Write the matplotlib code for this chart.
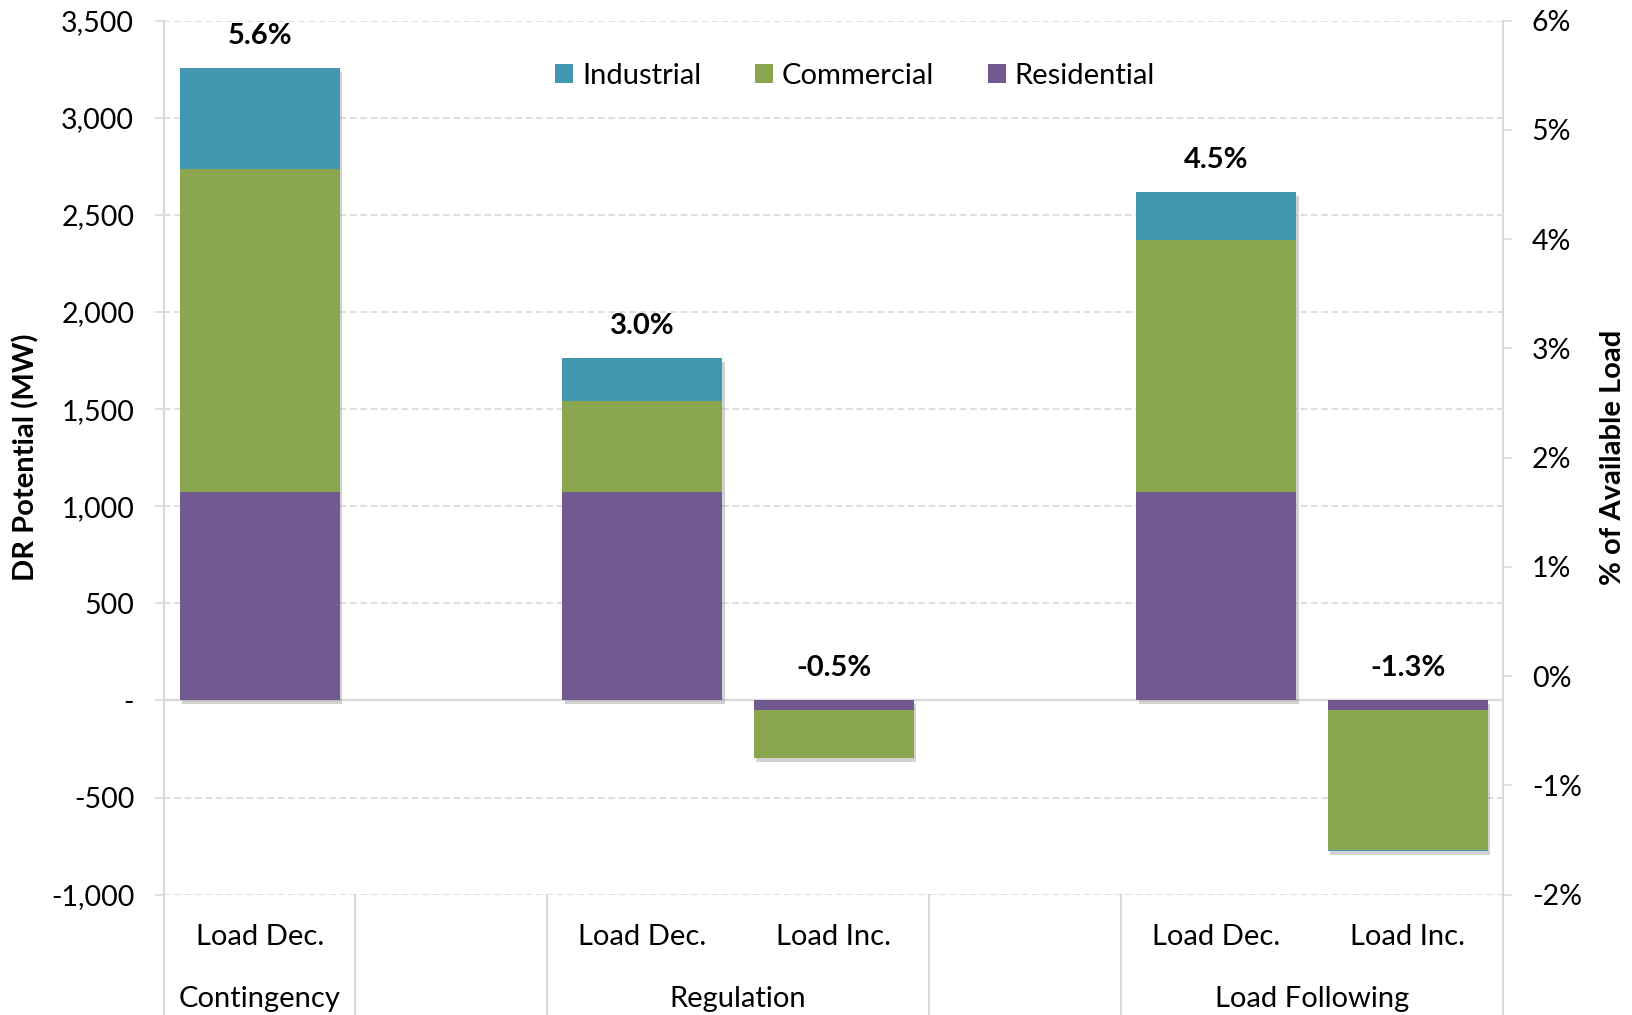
import numpy as np
import matplotlib
matplotlib.use("Agg")
import matplotlib.pyplot as plt
from matplotlib.patches import Patch
from matplotlib.ticker import FuncFormatter, MultipleLocator
from matplotlib import patheffects as pe
from matplotlib.transforms import blended_transform_factory

plt.rcParams['font.family'] = ['Lato', 'DejaVu Sans']

# Category slots (empty slots separate the service groups)
categories = ["Load Dec.", "", "Load Dec.", "Load Inc.", "", "Load Dec.", "Load Inc."]
group_names = ["Contingency", "", "Regulation", "", "Load Following"]
group_sizes = [1, 1, 2, 1, 2]

# DR potential by sector (MW)
residential = [1073, np.nan, 1073, -50, np.nan, 1073, -50]
commercial = [1663, np.nan, 468, -247, np.nan, 1297, -722]
industrial = [519, np.nan, 220, 0, np.nan, 246, -5]

# Share of available load (%)
pct_available = [5.6, np.nan, 3.0, -0.5, np.nan, 4.5, -1.3]

series = [("Residential", residential, "#72598F"),
          ("Commercial", commercial, "#8AA64E"),
          ("Industrial", industrial, "#4397B0")]

FS = 21
FS_TICK = 20.5
GRID = "#D9D9D9"

fig = plt.figure(figsize=(16.33, 10.15), dpi=100)
ax = fig.add_axes([164 / 1633, 1 - 894.7 / 1015, (1503.3 - 164) / 1633, (894.7 - 20.7) / 1015])

x = np.arange(len(categories))
valid = ~np.isnan(np.array(residential, dtype=float))
xb = x[valid]
width = 0.836

vals = {name: np.array(v, dtype=float)[valid] for name, v, _ in series}
pos_total = sum(np.clip(v, 0, None) for v in vals.values())
neg_total = sum(np.clip(v, None, 0) for v in vals.values())

# soft drop shadow under each full stacked column
ax.bar(xb, pos_total - neg_total, width, bottom=neg_total, color="none", linewidth=0,
       zorder=2, path_effects=[pe.SimplePatchShadow(offset=(2, -2.5), shadow_rgbFace="#7f7f7f", alpha=0.35)])

pos_base = np.zeros(len(xb))
neg_base = np.zeros(len(xb))
for name, _, color in series:
    v = vals[name]
    bottom = np.where(v >= 0, pos_base, neg_base)
    ax.bar(xb, v, width, bottom=bottom, color=color, linewidth=0, zorder=3)
    pos_base = pos_base + np.clip(v, 0, None)
    neg_base = neg_base + np.clip(v, None, 0)

# percentage labels above each column
pcts = np.array(pct_available, dtype=float)[valid]
for xi, top, p in zip(xb, pos_total, pcts):
    ax.annotate(f"{p:.1f}%", xy=(xi, max(top, 0)), xytext=(0, 17.5), textcoords="offset points",
                ha="center", va="baseline", fontsize=FS, fontweight="bold", zorder=5)

ax.set_xlim(-0.5, len(categories) - 0.5)
ax.set_ylim(-1000, 3500)
ax.yaxis.set_major_locator(MultipleLocator(500))
ax.yaxis.set_major_formatter(FuncFormatter(lambda v, _: "-" if v == 0 else f"{v:,.0f}"))
ax.tick_params(axis="y", length=6.5, width=1.2, color=GRID, pad=15, labelsize=FS_TICK)
ax.set_xticks([])
ax.set_axisbelow(True)
ax.yaxis.grid(True, color=GRID, linestyle=(0, (4, 2.2)), linewidth=1.2)
ax.axhline(0, color=GRID, linewidth=1.6, zorder=1.5)
for s in ("top", "bottom", "right"):
    ax.spines[s].set_visible(False)
ax.spines["left"].set_color(GRID)
ax.spines["left"].set_linewidth(1.5)
ax.set_ylabel("DR Potential (MW)", fontsize=FS, fontweight="bold")
ax.yaxis.set_label_coords(-0.093, 0.5)

ax2 = ax.twinx()
ax2.set_ylim(-2, 6)
ax2.yaxis.set_major_locator(MultipleLocator(1))
ax2.yaxis.set_major_formatter(FuncFormatter(lambda v, _: f"{v:.0f}%"))
ax2.tick_params(axis="y", length=6.5, width=1.2, color=GRID, pad=14, labelsize=FS_TICK)
for s in ("top", "bottom", "left"):
    ax2.spines[s].set_visible(False)
ax2.spines["right"].set_color(GRID)
ax2.spines["right"].set_linewidth(1.5)
ax2.set_ylabel("% of Available Load", fontsize=FS, fontweight="bold", rotation=90)
ax2.yaxis.set_label_coords(1.072, 0.5)

# two-level category axis
trans = blended_transform_factory(ax.transData, ax.transAxes)
for xi, lab in zip(x, categories):
    ax.text(xi, -0.048, lab, transform=trans, ha="center", va="center", fontsize=FS)
start = 0
bounds = [-0.5]
for name, size in zip(group_names, group_sizes):
    ax.text(start + (size - 1) / 2, -0.119, name, transform=trans, ha="center", va="center", fontsize=FS)
    start += size
    bounds.append(start - 0.5)
for b in bounds:
    ax.plot([b, b], [-0.2, 0], transform=trans, color=GRID, linewidth=1.5, clip_on=False, zorder=1)

handles = [Patch(facecolor=c, linewidth=0) for _, _, c in series[::-1]]
labels = [n for n, _, _ in series[::-1]]
ax.legend(handles, labels, loc="center", bbox_to_anchor=(0.516, 0.937), ncol=3, frameon=False,
          fontsize=FS, handlelength=0.62, handleheight=0.62, handletextpad=0.3, columnspacing=1.85)

fig.savefig("out.png", dpi=100)
